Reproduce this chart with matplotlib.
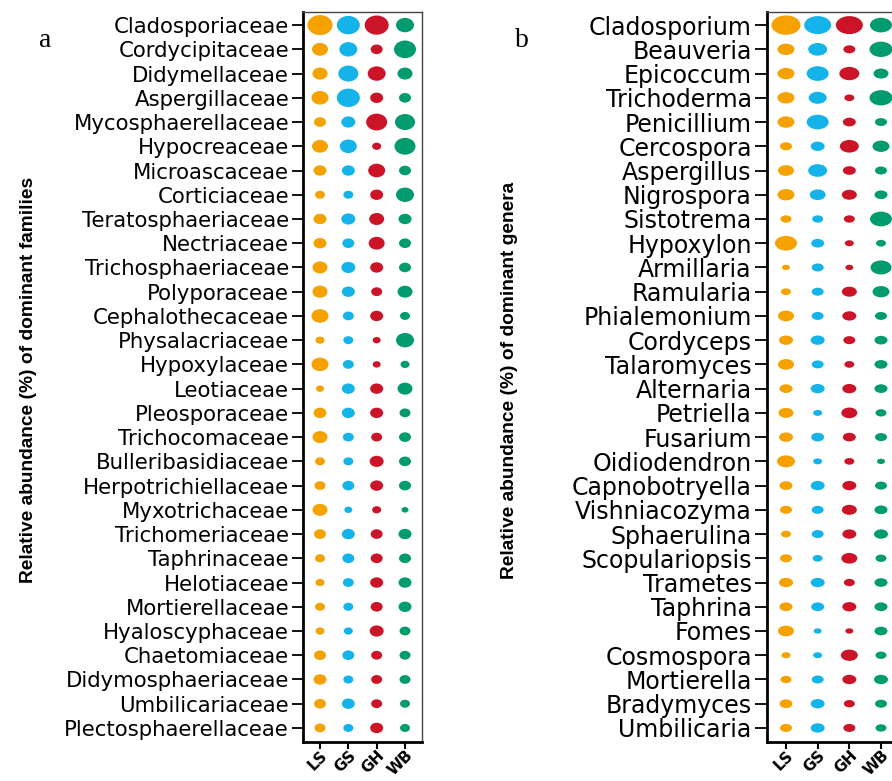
import numpy as np
import matplotlib
matplotlib.use("Agg")
import matplotlib.pyplot as plt
from matplotlib.path import Path
from matplotlib.markers import MarkerStyle

# sample groups and their colours
groups = ["LS", "GS", "GH", "WB"]
colors = ["#F5A200", "#14B4EA", "#CC1429", "#009C6F"]

families = [
    "Cladosporiaceae", "Cordycipitaceae", "Didymellaceae", "Aspergillaceae",
    "Mycosphaerellaceae", "Hypocreaceae", "Microascaceae", "Corticiaceae",
    "Teratosphaeriaceae", "Nectriaceae", "Trichosphaeriaceae", "Polyporaceae",
    "Cephalothecaceae", "Physalacriaceae", "Hypoxylaceae", "Leotiaceae",
    "Pleosporaceae", "Trichocomaceae", "Bulleribasidiaceae", "Herpotrichiellaceae",
    "Myxotrichaceae", "Trichomeriaceae", "Taphrinaceae", "Helotiaceae",
    "Mortierellaceae", "Hyaloscyphaceae", "Chaetomiaceae", "Didymosphaeriaceae",
    "Umbilicariaceae", "Plectosphaerellaceae",
]
genera = [
    "Cladosporium", "Beauveria", "Epicoccum", "Trichoderma", "Penicillium",
    "Cercospora", "Aspergillus", "Nigrospora", "Sistotrema", "Hypoxylon",
    "Armillaria", "Ramularia", "Phialemonium", "Cordyceps", "Talaromyces",
    "Alternaria", "Petriella", "Fusarium", "Oidiodendron", "Capnobotryella",
    "Vishniacozyma", "Sphaerulina", "Scopulariopsis", "Trametes", "Taphrina",
    "Fomes", "Cosmospora", "Mortierella", "Bradymyces", "Umbilicaria",
]

# dot size per taxon (relative abundance scale)
fam_LS = [25, 16, 15, 17, 12, 16, 13, 10, 13, 13, 15, 15, 17, 9, 17,
          8, 13, 15, 10, 11, 15, 12, 10, 9, 10, 9, 12, 13, 12, 11]
fam_GS = [23, 18, 20, 23, 14, 17, 13, 10, 14, 12, 14, 13, 11, 10, 11,
          13, 13, 11, 10, 12, 8, 13, 12, 11, 10, 9, 12, 10, 13, 10]
fam_GH = [24, 12, 18, 13, 21, 9, 17, 13, 15, 16, 13, 11, 13, 8, 8,
          13, 13, 11, 14, 13, 9, 12, 12, 13, 12, 14, 11, 11, 11, 13]
fam_WB = [18, 22, 15, 12, 20, 21, 12, 18, 13, 12, 12, 15, 10, 18, 9,
          15, 11, 12, 12, 12, 7, 13, 12, 13, 13, 11, 11, 11, 10, 10]

gen_LS = [29, 17, 17, 17, 17, 12, 16, 17, 11, 22, 8, 10, 16, 14, 16,
          13, 15, 14, 18, 13, 12, 10, 12, 14, 13, 16, 9, 11, 13, 12]
gen_GS = [27, 19, 22, 18, 22, 14, 19, 16, 11, 13, 12, 12, 12, 14, 12,
          14, 9, 13, 9, 14, 12, 12, 10, 14, 13, 8, 9, 12, 14, 14]
gen_GH = [27, 12, 20, 10, 13, 19, 13, 15, 11, 9, 8, 15, 14, 12, 10,
          14, 16, 13, 10, 14, 15, 14, 16, 11, 14, 8, 17, 14, 11, 12]
gen_WB = [22, 23, 15, 23, 12, 17, 12, 13, 22, 10, 21, 17, 12, 13, 13,
          13, 11, 12, 8, 12, 13, 14, 11, 13, 13, 13, 11, 14, 12, 11]

W, H = 892, 781


def ellipse_marker(aspect):
    c = Path.unit_circle()
    return MarkerStyle(Path(c.vertices * [1.0, 1.0 / aspect], c.codes))


def bubble_panel(rect, names, cols, aspect, fsize, ticklen, ylabel, label_x, letter, letter_x):
    ax = fig.add_axes([rect[0] / W, rect[1] / H, rect[2] / W, rect[3] / H])
    mk = ellipse_marker(aspect)
    for j, (vals, c) in enumerate(zip(cols, colors)):
        y = np.arange(len(names))
        x = np.full(len(names), j)
        ax.scatter(x, y, s=(np.array(vals) * 0.72) ** 2, marker=mk,
                   color=c, linewidths=0, zorder=3, clip_on=False)
    ax.set_xlim(-0.6, 3.6)
    ax.set_ylim(len(names) - 0.42, -0.54)
    ax.set_yticks(range(len(names)))
    ax.set_yticklabels(names, fontsize=fsize, family="DejaVu Sans")
    ax.set_xticks(range(4))
    ax.set_xticklabels(groups, rotation=45, ha="right", va="top",
                       rotation_mode="anchor", fontsize=11, fontweight="bold")
    ax.tick_params(axis="y", length=ticklen, width=1.3, pad=2)
    ax.tick_params(axis="x", length=5, width=1.5, pad=-1)
    for s in ("left", "bottom"):
        ax.spines[s].set_linewidth(2.0)
    for s in ("top", "right"):
        ax.spines[s].set_linewidth(1.0)
        ax.spines[s].set_color("#444444")
    fig.text(label_x / W, 1 - 380 / H, ylabel, rotation=90, ha="center", va="center",
             fontsize=13.8, fontweight="bold", family="Liberation Sans")
    fig.text(letter_x / W, 1 - 47 / H, letter, fontsize=20, family="Liberation Serif",
             ha="center", va="baseline")
    return ax


fig = plt.figure(figsize=(W / 100, H / 100), dpi=100)
bubble_panel((303, 39, 119, 730), families, [fam_LS, fam_GS, fam_GH, fam_WB],
             1.25, 15.3, 8, "Relative abundance (%) of dominant families", 29, "a", 45)
bubble_panel((767, 39, 133, 730), genera, [gen_LS, gen_GS, gen_GH, gen_WB],
             1.5, 17, 9, "Relative abundance (%) of dominant genera", 510, "b", 522)
fig.savefig("out.png", dpi=100)
